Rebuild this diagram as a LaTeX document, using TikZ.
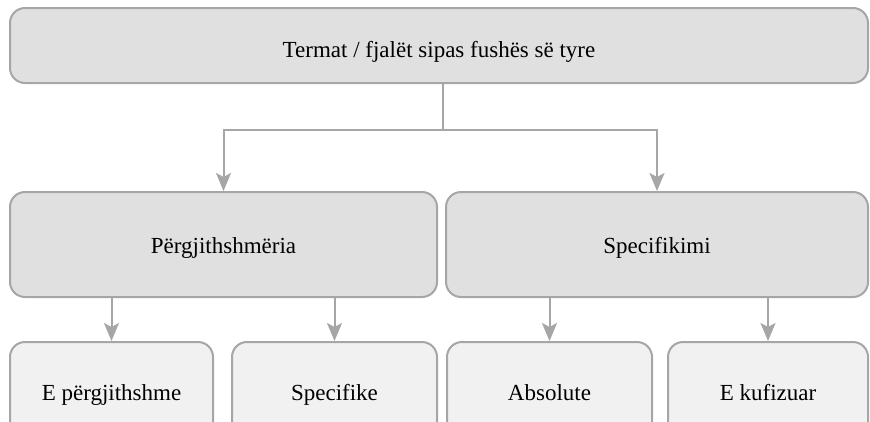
\documentclass[tikz,border=0pt]{standalone}
\usepackage{fontspec}
\setmainfont{Liberation Serif}
\usetikzlibrary{arrows.meta}
\definecolor{edgegray}{HTML}{A6A6A6}
\definecolor{boxdark}{HTML}{E0E0E0}
\definecolor{boxlight}{HTML}{F1F1F1}
\begin{document}
\begin{tikzpicture}[x=1pt,y=-1pt,
  box/.style={draw=edgegray,line width=2pt,rounded corners=15pt,
    inner sep=0pt,font=\fontsize{23}{26}\selectfont,text=black,
    text height=20pt,text depth=3pt},
  upper/.style={box,fill=boxdark},
  lower/.style={box,fill=boxlight},
  link/.style={draw=edgegray,line width=2pt},
  arrow/.style={link,-{Stealth[length=18pt,width=15pt,inset=4pt]}}]
\useasboundingbox (0,0) rectangle (870,421);
\clip (0,0) rectangle (870,421);

% heading
\node[upper,minimum width=858pt,minimum height=75pt,
  text height=24pt,text depth=1pt] (top) at (439,45.5)
  {Termat / fjalët sipas fushës së tyre};

% two main branches
\node[upper,minimum width=427pt,minimum height=105pt] (gen) at (223.5,244.5)
  {Përgjithshmëria};
\node[upper,minimum width=422pt,minimum height=105pt] (spec) at (657,244.5)
  {Specifikimi};

% leaves
\node[lower,minimum width=203pt,minimum height=100pt] (b1) at (111.5,392)
  {E përgjithshme};
\node[lower,minimum width=205pt,minimum height=100pt] (b2) at (334.5,392)
  {Specifike};
\node[lower,minimum width=205pt,minimum height=100pt] (b3) at (549.5,392)
  {Absolute};
\node[lower,minimum width=200pt,minimum height=100pt] (b4) at (768,392)
  {E kufizuar};

% connectors
\coordinate (split) at (443,130);
\draw[link] (top.south -| split) -- (split);
\draw[arrow] (split) -| (gen.north);
\draw[arrow] (split) -| (spec.north);

\draw[arrow] (gen.south -| b1.north) -- (b1.north);
\draw[arrow] (gen.south -| b2.north) -- (b2.north);
\draw[arrow] (spec.south -| b3.north) -- (b3.north);
\draw[arrow] (spec.south -| b4.north) -- (b4.north);
\end{tikzpicture}
\end{document}
